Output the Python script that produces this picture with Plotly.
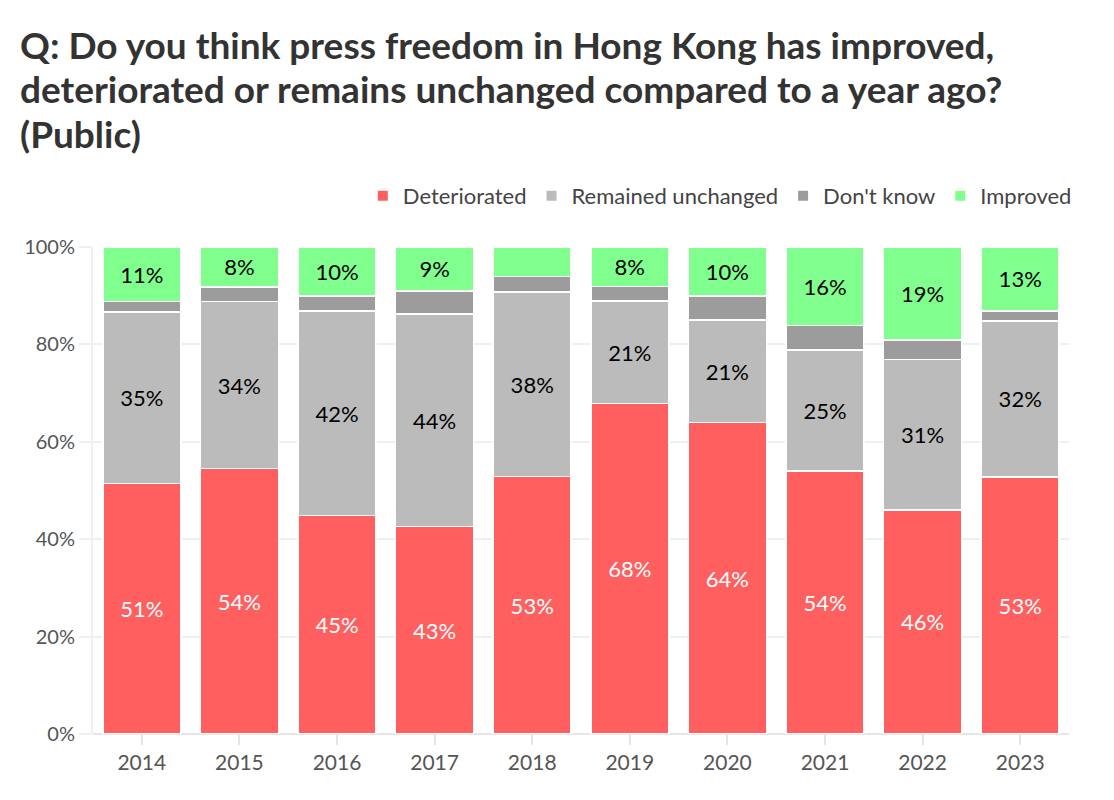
import plotly.graph_objects as go

years = ["2014", "2015", "2016", "2017", "2018", "2019", "2020", "2021", "2022", "2023"]
deteriorated = [51.4, 54.5, 44.9, 42.6, 52.9, 67.9, 64.0, 54.0, 46.0, 52.8]
unchanged = [35.3, 34.3, 42.0, 43.6, 37.9, 21.0, 21.0, 24.9, 30.9, 32.0]
dont_know = [2.1, 3.0, 3.0, 4.8, 3.1, 3.0, 4.9, 5.0, 4.0, 2.1]
improved = [11.2, 8.2, 10.1, 9.0, 6.1, 8.1, 10.1, 16.1, 19.1, 13.1]

title_lines = [
    "Q: Do you think press freedom in Hong Kong has improved,",
    "deteriorated or remains unchanged compared to a year ago?",
    "(Public)",
]

series = [
    ("Deteriorated", deteriorated, "#FF5F5F", "white", True),
    ("Remained unchanged", unchanged, "#BBBBBB", "black", True),
    ("Don't know", dont_know, "#9C9C9C", "black", False),
    ("Improved", improved, "#80FF8F", "black", True),
]

FONT = "Lato"

fig = go.Figure()
for name, vals, color, tcolor, show in series:
    texts = [f"{round(v)}%" if (show and v >= 7) else "" for v in vals]
    fig.add_trace(go.Bar(
        name=name, x=years, y=vals,
        marker=dict(color=color, line=dict(color="white", width=1.5)),
        text=texts, textposition="inside", insidetextanchor="middle",
        textangle=0, constraintext="none",
        textfont=dict(family=FONT, size=22, color=tcolor),
        hoverinfo="skip",
    ))

# title lines as annotations (paper coords: plot spans x 93..1069, y 247..734 px)
line_centers_px = [44, 89, 134]
for txt, cy in zip(title_lines, line_centers_px):
    fig.add_annotation(
        text=txt, xref="paper", yref="paper",
        x=(18 - 93) / 976, y=(734 - cy) / 487,
        xanchor="left", yanchor="middle", showarrow=False,
        font=dict(family=FONT, size=37, color="#333", weight="bold"),
    )

fig.update_layout(
    barmode="stack",
    bargap=0.2,
    width=1114, height=800,
    margin=dict(l=93, r=45, t=247, b=66),
    paper_bgcolor="white", plot_bgcolor="white",
    font=dict(family=FONT, color="#444"),
    legend=dict(
        orientation="h", x=1.008, xanchor="right", y=1.105, yanchor="middle",
        font=dict(family=FONT, size=22, color="#444"),
        itemsizing="constant", traceorder="normal", itemwidth=30,
    ),
    xaxis=dict(
        tickfont=dict(family=FONT, size=21, color="#555"),
        ticks="outside", ticklen=10, tickcolor="#e6e6e6", tickwidth=2,
        showline=False, showgrid=False,
    ),
    yaxis=dict(
        range=[0, 100], dtick=20, ticksuffix="%",
        tickfont=dict(family=FONT, size=20, color="#555"),
        showgrid=True, gridcolor="#efefef", gridwidth=2,
        ticks="outside", ticklen=12, tickcolor="#efefef", tickwidth=2,
        showline=True, linecolor="#efefef", linewidth=2,
        zeroline=True, zerolinecolor="#e6e6e6", zerolinewidth=2,
    ),
    showlegend=True,
)

fig.write_html("out.html")
